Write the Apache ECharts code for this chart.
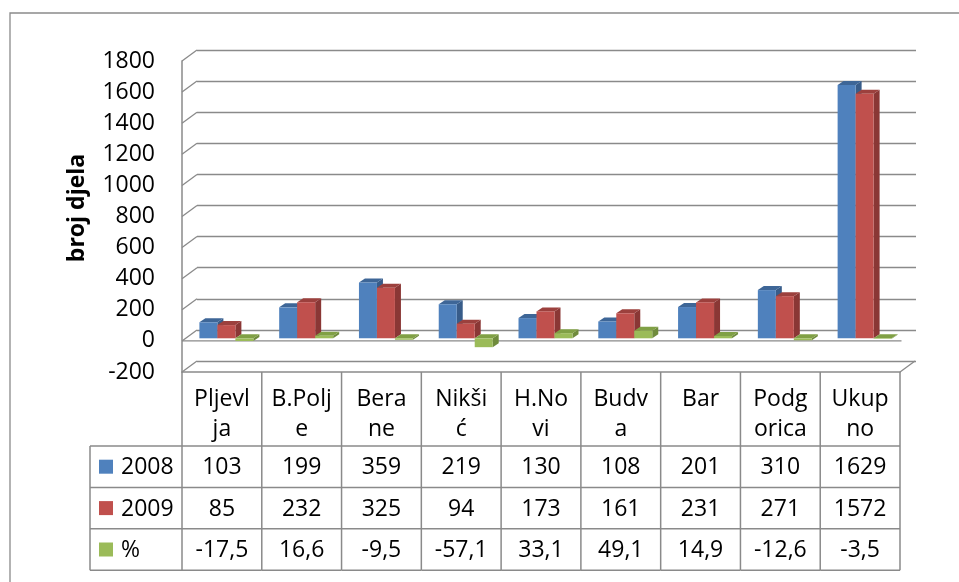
<!DOCTYPE html>
<html><head><meta charset="utf-8">
<script src="https://cdn.jsdelivr.net/npm/echarts/dist/echarts.min.js"></script>
<style>html,body{margin:0;padding:0;background:#fff}#c{width:959px;height:582px}</style>
</head><body><div id="c"></div>
<script>
// ---- data ----
const categories = ["Pljevl\nja", "B.Polj\ne", "Bera\nne", "Nikši\nć", "H.No\nvi", "Budv\na", "Bar", "Podg\norica", "Ukup\nno"];
const seriesNames = ["2008", "2009", "%"];
const values2008 = [103, 199, 359, 219, 130, 108, 201, 310, 1629];
const values2009 = [85, 232, 325, 94, 173, 161, 231, 271, 1572];
const valuesPct = [-17.5, 16.6, -9.5, -57.1, 33.1, 49.1, 14.9, -12.6, -3.5];
const yTicks = [-200, 0, 200, 400, 600, 800, 1000, 1200, 1400, 1600, 1800];
const yTitle = "broj djela";

// ---- style constants ----
const FONT = "'Open Sans', 'Liberation Sans', sans-serif";
const FS = 23;
const GRID_C = '#8a8a8a';
const Y_MIN = -200, Y_MAX = 1800, Y_INT = 200;
const DX = 15, DY = 11;          // depth of walls
const SX = 4.5, SY = -2.6;       // bar offset inside floor
const DX2 = 6, DY2 = 4;          // bar depth
const BAR_RATIO = 18 / 79.8;
const HEADER_H = 74, ROW_H = 41.4;
const LEG_LEFT = 90;
const palette = [
  {front: '#4F81BD', top: '#3E6697', side: '#385C89'},
  {front: '#C0504D', top: '#9C403D', side: '#8A3735'},
  {front: '#9BBB59', top: '#80A045', side: '#6F8B3C'}
];
const seriesValues = [values2008, values2009, valuesPct];
const fmt = v => String(v).replace('.', ',');

function barRenderer(s) {
  const col = palette[s];
  return function (params, api) {
    const i = api.value(0), v = api.value(1);
    const base = api.coord([i, 0]);
    const top = api.coord([i, v]);
    const band = api.size([1, 0])[0];
    const bw = band * BAR_RATIO;
    const x = base[0] + SX + (s - 1.5) * bw;
    const y0 = base[1] + SY, y1 = top[1] + SY;
    const yt = Math.min(y0, y1), yb = Math.max(y0, y1);
    return {type: 'group', children: [
      {type: 'polygon', shape: {points: [[x + bw, yt], [x + bw + DX2, yt - DY2], [x + bw + DX2, yb - DY2], [x + bw, yb]]}, style: {fill: col.side}},
      {type: 'polygon', shape: {points: [[x, yt], [x + bw, yt], [x + bw + DX2, yt - DY2], [x + DX2, yt - DY2]]}, style: {fill: col.top}},
      {type: 'rect', shape: {x: x, y: yt, width: bw, height: Math.max(yb - yt, 0.01)}, style: {fill: col.front}}
    ]};
  };
}

const lineStyle = {stroke: GRID_C, lineWidth: 1.5};

function tableRenderer(params, api) {
  const i = api.value(0);
  const p = api.coord([i, Y_MIN]);
  const band = api.size([1, 0])[0];
  const xl = p[0] - band / 2, xr = p[0] + band / 2, yTop = p[1];
  const yRows = [yTop + HEADER_H, yTop + HEADER_H + ROW_H, yTop + HEADER_H + 2 * ROW_H, yTop + HEADER_H + 3 * ROW_H];
  const ch = [];
  ch.push({type: 'line', shape: {x1: xr, y1: yTop, x2: xr, y2: yRows[3]}, style: lineStyle});
  yRows.forEach(y => ch.push({type: 'line', shape: {x1: xl, y1: y, x2: xr, y2: y}, style: lineStyle}));
  for (let r = 0; r < 3; r++) {
    ch.push({type: 'text', style: {text: fmt(seriesValues[r][i]), x: p[0], y: (yRows[r] + yRows[r + 1]) / 2 + 1,
      align: 'center', verticalAlign: 'middle', font: FS + 'px ' + FONT, fill: '#000'}});
  }
  if (i === 0) {
    ch.push({type: 'line', shape: {x1: xl, y1: yTop, x2: xl, y2: yRows[3]}, style: lineStyle});
    ch.push({type: 'line', shape: {x1: LEG_LEFT, y1: yRows[0], x2: LEG_LEFT, y2: yRows[3]}, style: lineStyle});
    yRows.forEach(y => ch.push({type: 'line', shape: {x1: LEG_LEFT, y1: y, x2: xl, y2: y}, style: lineStyle}));
    for (let r = 0; r < 3; r++) {
      const cy = (yRows[r] + yRows[r + 1]) / 2;
      ch.push({type: 'rect', shape: {x: LEG_LEFT + 9, y: cy - 7, width: 14, height: 14}, style: {fill: palette[r].front}});
      ch.push({type: 'text', style: {text: seriesNames[r], x: LEG_LEFT + 31, y: cy + 1, align: 'left', verticalAlign: 'middle',
        font: FS + 'px ' + FONT, fill: '#000'}});
    }
  }
  return {type: 'group', children: ch};
}

function wallRenderer(params, api) {
  const v = api.value(1);
  const p = api.coord([0, v]);
  const band = api.size([1, 0])[0];
  const x0 = p[0] - band / 2;
  return {type: 'line', shape: {x1: x0, y1: p[1], x2: x0 + DX, y2: p[1] - DY}, style: {stroke: GRID_C, lineWidth: 1.3}};
}

function floorRenderer(params, api) {
  const p = api.coord([0, 0]);
  const band = api.size([1, 0])[0];
  const x0 = p[0] - band / 2;
  const n = categories.length;
  const pb = api.coord([0, Y_MIN]);
  return {type: 'group', children: [
    {type: 'line', shape: {x1: x0, y1: p[1], x2: x0 + n * band + 1.5, y2: p[1]}, style: {stroke: GRID_C, lineWidth: 1.3}},
    {type: 'line', shape: {x1: x0 + n * band, y1: pb[1], x2: x0 + n * band + DX, y2: pb[1] - DY}, style: {stroke: GRID_C, lineWidth: 1.3}}
  ]};
}

const chart = echarts.init(document.getElementById('c'), null, {renderer: 'canvas'});
chart.setOption({
  animation: false,
  backgroundColor: '#fff',
  textStyle: {fontFamily: FONT},
  grid: [
    {left: 182, right: 59, top: 61, bottom: 210},
    {left: 197, right: 43, top: 50, bottom: 221}
  ],
  xAxis: [
    {type: 'category', gridIndex: 0, data: categories,
      axisLine: {show: true, onZero: false, lineStyle: {color: GRID_C, width: 1.5}},
      axisTick: {show: false},
      axisLabel: {interval: 0, fontSize: FS, lineHeight: 30, color: '#000', verticalAlign: 'top', margin: 12, fontFamily: FONT}},
    {type: 'category', gridIndex: 1, data: categories, show: false}
  ],
  yAxis: [
    {type: 'value', gridIndex: 0, min: Y_MIN, max: Y_MAX, interval: Y_INT,
      axisLine: {show: true, lineStyle: {color: GRID_C, width: 1.5}},
      axisTick: {show: false}, splitLine: {show: false},
      axisLabel: {fontSize: FS, color: '#000', margin: 27, fontFamily: FONT, padding: [6, 0, 0, 0], formatter: v => String(v)}},
    {type: 'value', gridIndex: 1, min: Y_MIN, max: Y_MAX, interval: Y_INT,
      axisLine: {show: false}, axisTick: {show: false}, axisLabel: {show: false},
      splitLine: {show: true, lineStyle: {color: GRID_C, width: 1.3}}}
  ],
  graphic: [
    {type: 'rect', shape: {x: 10, y: 13, width: 1200, height: 1000}, style: {fill: null, stroke: GRID_C, lineWidth: 1.3}, z: 0},
    {type: 'text', x: 77, y: 208, rotation: Math.PI / 2,
      style: {text: yTitle, font: 'bold 23px ' + FONT, fill: '#000', align: 'center', verticalAlign: 'middle'}}
  ],
  series: [
    {type: 'custom', name: 'wall', xAxisIndex: 0, yAxisIndex: 0, renderItem: wallRenderer,
      data: yTicks.map(v => [0, v]), silent: true},
    {type: 'custom', name: 'floor', xAxisIndex: 0, yAxisIndex: 0, renderItem: floorRenderer,
      data: [[0, 0]], silent: true},
    ...seriesNames.map((name, s) => ({
      type: 'custom', name: name, xAxisIndex: 0, yAxisIndex: 0, renderItem: barRenderer(s),
      data: seriesValues[s].map((v, i) => [i, v]), encode: {x: 0, y: 1}
    })),
    {type: 'custom', name: 'table', xAxisIndex: 0, yAxisIndex: 0, renderItem: tableRenderer,
      data: categories.map((c, i) => [i, Y_MIN]), silent: true}
  ]
});
</script></body></html>
